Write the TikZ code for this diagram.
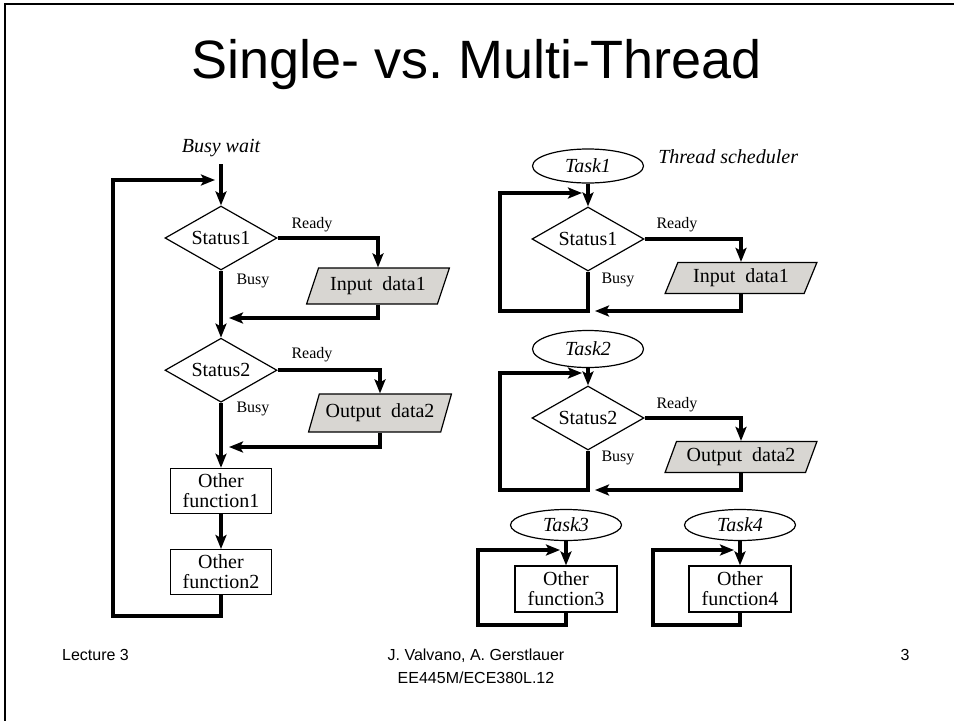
\documentclass[tikz,border=0pt]{standalone}
\usepackage{fontspec}
\setmainfont{Liberation Serif}
\newfontfamily\slidefont{Liberation Sans}
\usepackage{xcolor}
\usetikzlibrary{arrows.meta,positioning,shapes.geometric}
\definecolor{iofill}{RGB}{216,214,210}
\frenchspacing

\begin{document}
\begin{tikzpicture}[
  x=1pt, y=-1pt,
  node distance=35pt,
  decision/.style={draw, diamond, aspect=1.75, line width=1.2pt, minimum width=112pt, minimum height=64pt, inner sep=0pt, font=\fontsize{20}{21}\selectfont},
  iobox/.style={draw, trapezium, trapezium left angle=62, trapezium right angle=118, trapezium stretches=true, fill=iofill, line width=1.2pt, minimum width=143pt, minimum height=36pt, inner sep=0pt, font=\fontsize{20}{21}\selectfont},
  funcbox/.style={draw, rectangle, line width=1.2pt, minimum width=101pt, minimum height=45pt, inner sep=0pt, align=center, font=\fontsize{20}{20}\selectfont},
  task/.style={draw, ellipse, line width=1.2pt, minimum width=111pt, minimum height=34pt, inner sep=0pt, font=\fontsize{20}{21}\selectfont\itshape},
  flow/.style={line width=4pt, -{Stealth[length=14pt,width=11pt,inset=3pt]}},
  tag/.style={font=\fontsize{16}{17}\selectfont, inner sep=0pt},
  note/.style={font=\fontsize{20}{21}\selectfont\itshape, inner sep=0pt},
  foot/.style={font=\slidefont\fontsize{16}{23}\selectfont, inner sep=0pt}
]
\useasboundingbox (0,0) rectangle (954,721);
\draw[line width=2pt] (954,4) -- (5,4) -- (5,721);

\node[font=\slidefont\fontsize{54}{58}\selectfont] (title) at (477,65) {Single- vs. Multi-Thread};

\node[note] (busywait) at (221,148) {Busy wait};
\coordinate (entry) at (221,164);
\node[decision] (s1) at (221,238) {Status1};
\node[iobox] (in1) at (378,286) {Input~~data1};
\node[decision, below=67pt of s1] (s2) {Status2};
\node[iobox, minimum height=38pt] (out2) at (380,413) {Output~~data2};
\node[funcbox, below=65pt of s2] (f1) {Other\\function1};
\node[funcbox, below=35pt of f1] (f2) {Other\\function2};

\node[tag] (rdy1) at (312,225) {Ready};
\node[tag] (busy1) at (253,281) {Busy};
\node[tag] (rdy2) at (312,355) {Ready};
\node[tag] (busy2) at (253,409) {Busy};

\coordinate (j1) at (229,318);
\coordinate (j2) at (229,447);
\coordinate (loopL) at (113,616);
\coordinate (back) at (215,180);

\draw[flow] (entry) -- (s1.north);
\draw[flow] (s1.south) -- (s2.north);
\draw[flow] (s2.south) -- (f1.north);
\draw[flow] (f1.south) -- (f2.north);
\draw[flow] (s1.east) -| (in1.north);
\draw[flow] (s2.east) -| (out2.north);
\draw[flow] (in1.south) |- (j1);
\draw[flow] (out2.south) |- (j2);
\draw[flow] (f2.south) |- (loopL) |- (back);

\node[task] (t1) at (588,166) {Task1};
\node[note, right=14pt of t1, yshift=9pt] (sched) {Thread scheduler};
\node[decision] (r1) at (588,239) {Status1};
\node[iobox, minimum width=152pt, minimum height=31pt] (p1) at (741,278) {Input~~data1};
\node[tag] (rdy3) at (677,225) {Ready};
\node[tag] (busy3) at (618,280) {Busy};

\node[task, minimum height=37pt] (t2) at (588,349) {Task2};
\node[decision] (r2) at (588,418) {Status2};
\node[iobox, minimum width=152pt, minimum height=31pt] (p2) at (741,457) {Output~~data2};
\node[tag] (rdy4) at (677,405) {Ready};
\node[tag] (busy4) at (618,458) {Busy};

\node[task, minimum height=31pt] (t3) at (566,525) {Task3};
\node[funcbox, minimum width=102pt, minimum height=46pt] (f3) at (566,589) {Other\\function3};
\node[task, minimum height=31pt] (t4) at (740,525) {Task4};
\node[funcbox, minimum width=102pt, minimum height=46pt] (f4) at (740,589) {Other\\function4};

\coordinate (lp1) at (500,311);
\coordinate (bk1) at (582,193);
\coordinate (rt1) at (595,311);
\coordinate (lp2) at (500,490);
\coordinate (bk2) at (582,373);
\coordinate (rt2) at (595,490);
\coordinate (lp3) at (478,625);
\coordinate (bk3) at (560,550);
\coordinate (lp4) at (653,625);
\coordinate (bk4) at (734,550);

\foreach \a/\b in {t1/r1,t2/r2,t3/f3,t4/f4} \draw[flow] (\a.south) -- (\b.north);
\draw[flow] (r1.east) -| (p1.north);
\draw[flow] (r2.east) -| (p2.north);
\draw[flow] (p1.south) |- (rt1);
\draw[flow] (p2.south) |- (rt2);
\draw[flow] (r1.south) |- (lp1) |- (bk1);
\draw[flow] (r2.south) |- (lp2) |- (bk2);
\draw[flow] (f3.south) |- (lp3) |- (bk3);
\draw[flow] (f4.south) |- (lp4) |- (bk4);

\node[foot, anchor=west] (lecture) at (62,655) {Lecture 3};
\node[foot, align=center] (authors) at (476,666) {J. Valvano, A. Gerstlauer\\EE445M/ECE380L.12};
\node[foot] (page) at (905,655) {3};
\end{tikzpicture}
\end{document}
